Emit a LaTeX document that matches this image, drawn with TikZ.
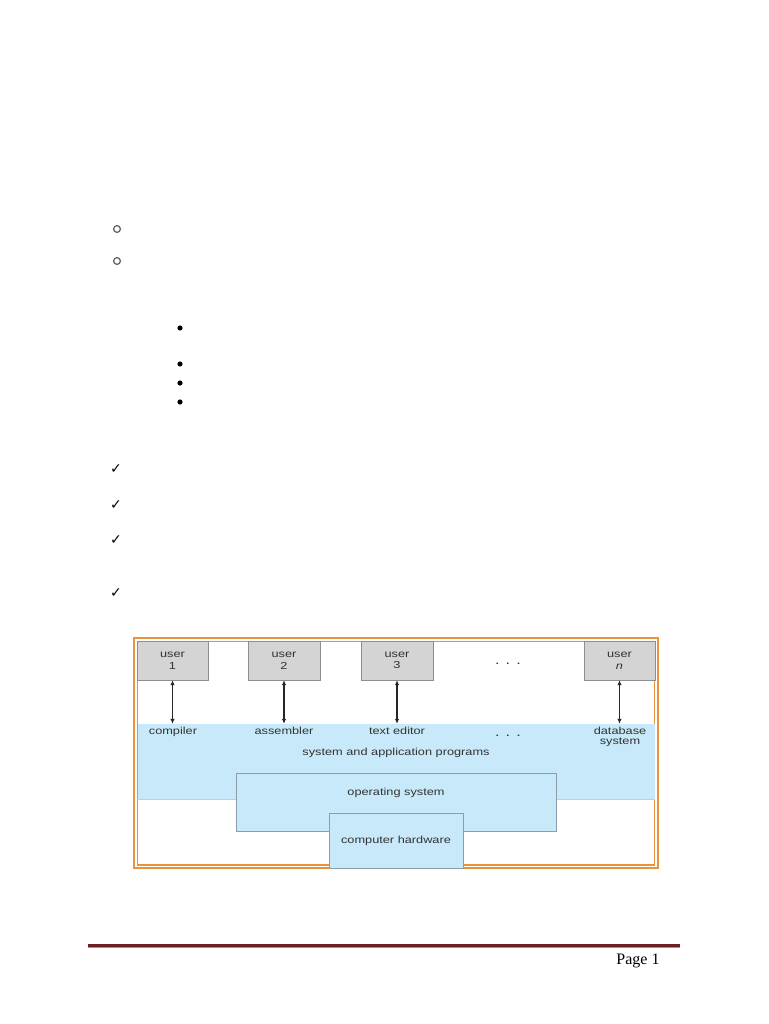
\documentclass[tikz,border=0pt]{standalone}
\usepackage{fontspec}
\setmainfont{Liberation Serif}
\newfontfamily\diagfont[FakeStretch=1.25]{Liberation Sans}
\newfontfamily\symfont{DejaVu Sans}
\usetikzlibrary{positioning,arrows.meta}
\definecolor{frameorange}{HTML}{E8923A}
\definecolor{userfill}{HTML}{D4D4D4}
\definecolor{userdraw}{HTML}{8E8E8E}
\definecolor{layerfill}{HTML}{C7E9F9}
\definecolor{layerdraw}{HTML}{8B9EA8}
\definecolor{footred}{HTML}{6E1F22}
\definecolor{footpale}{HTML}{B58A8A}
\definecolor{labelgray}{HTML}{333333}

\begin{document}
\begin{tikzpicture}[
  x=1pt,y=-1pt,
  font=\diagfont\fontsize{10.2}{11}\selectfont,
  userBox/.style={draw=userdraw,fill=userfill,minimum width=71pt,minimum height=39pt,
                  inner sep=0pt,align=center,text=labelgray,font=\diagfont\fontsize{10.2}{11.5}\selectfont},
  layerBox/.style={draw=layerdraw,fill=layerfill,inner sep=0pt,text=labelgray},
  lbl/.style={anchor=north,inner sep=0pt,align=center,text=labelgray,font=\diagfont\fontsize{10.2}{10}\selectfont},
  dotsLbl/.style={inner sep=0pt,text=labelgray,font=\diagfont\fontsize{13}{13}\selectfont},
  arr/.style={{Latex[length=5pt,width=4.5pt]}-{Latex[length=5pt,width=4.5pt]},draw=black!85,line width=1.2pt},
  openDot/.style={draw=black!60,line width=1.3pt},
  tick/.style={font=\symfont\fontsize{14}{14}\selectfont,inner sep=0pt},
]
\useasboundingbox[fill=white] (0,0) rectangle (768,1024);

% list markers of the page
\foreach \yy in {229,261} \draw[openDot] (117,\yy) circle (3.4);
\foreach \yy in {328,364,383,402} \fill (180,\yy) circle (2.6);
\foreach \yy in {469,505,540,593} \node[tick] at (116,\yy) {✓};

% frame
\draw[frameorange,line width=2pt] (134,638) rectangle (658,868);
\draw[frameorange,line width=1.2pt] (137.5,641.5) rectangle (654.5,865);

% layers (bottom to top)
\node[layerBox,draw=none,minimum width=517pt,minimum height=75pt] (apps) at (396,761.5) {};
\draw[layerdraw!50] (apps.south west) -- (apps.south east);
\node[layerBox,minimum width=320pt,minimum height=58pt] (os) at (396,802) {};
\node[text=labelgray] at (396,793) {operating system};
\node[layerBox,minimum width=134pt,minimum height=55pt] (hw) at (396,840.5) {computer hardware};
\node[text=labelgray] (appsLbl) at (396,753) {system and application programs};

% users
\node[userBox] (user1) at (172.5,660.5) {user\\1};
\node[userBox,minimum width=72pt] (user2) at (284,660.5) {user\\2};
\node[userBox,minimum width=72pt] (user3) at (397,660.5) {user\\3};
\node[userBox] (userN) at (619.5,660.5) {user\\\textit{n}};
\node[dotsLbl,anchor=base] (dotsTop) at (508,664) {. . .};

% program labels
\node[lbl] (compiler) at (173,727) {compiler};
\node[lbl] (assembler) at (284,727) {assembler};
\node[lbl] (editor) at (397,727) {text editor};
\node[dotsLbl,anchor=base] (dotsMid) at (508,736) {. . .};
\node[lbl] (dbsys) at (620,727) {database\\system};

% user <-> program
\foreach \u in {user1,user2,user3,userN}
  \draw[arr] (\u.south) -- (\u.south |- apps.north);

% footer
\draw[footred,line width=3pt] (88,945) -- (680,945);
\draw[footpale,line width=1pt] (88,947.5) -- (680,947.5);
\node[font=\fontsize{16}{16}\selectfont] (pageNo) at (638,961) {Page 1};
\end{tikzpicture}
\end{document}
